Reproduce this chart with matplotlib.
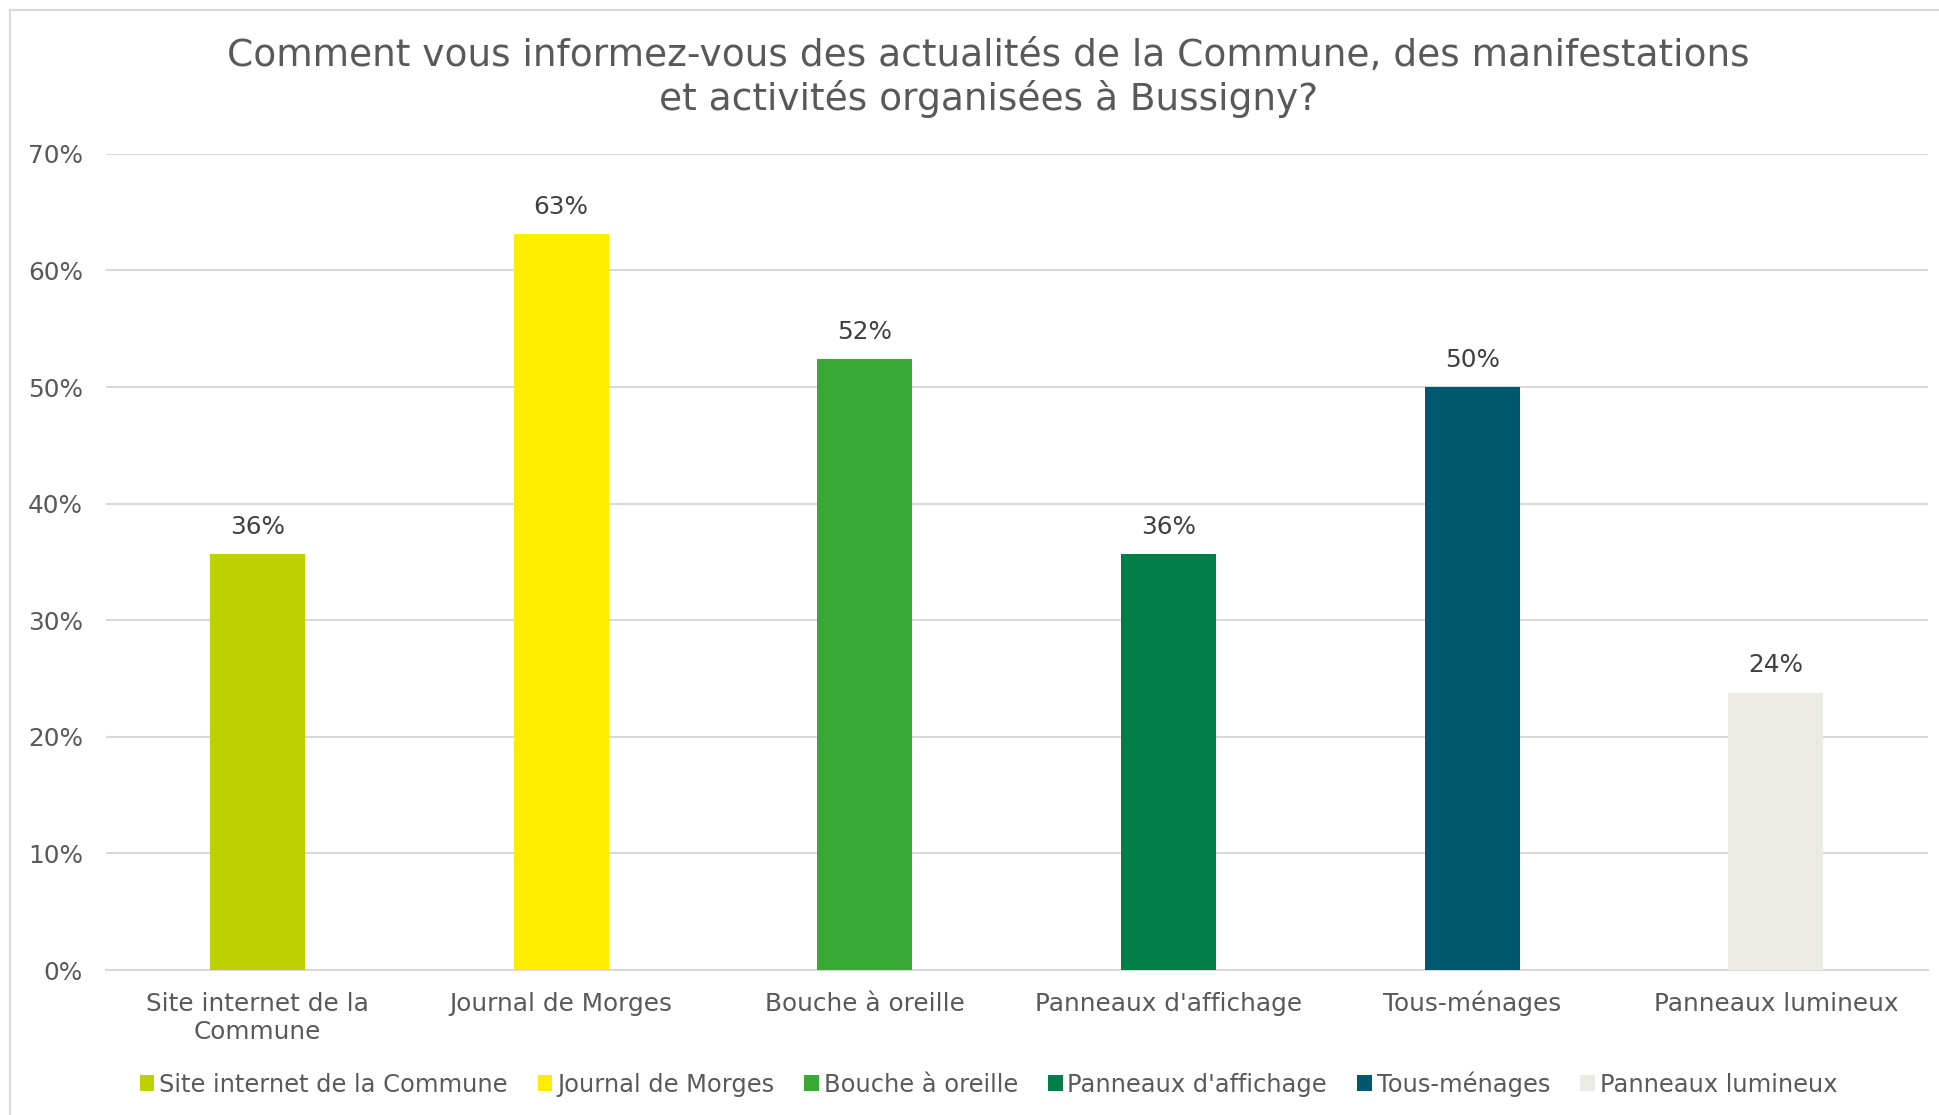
import matplotlib.pyplot as plt
from matplotlib.patches import Patch
from matplotlib.lines import Line2D
from matplotlib.ticker import PercentFormatter
from matplotlib.transforms import ScaledTranslation

categories = ['Site internet de la\nCommune', 'Journal de Morges', 'Bouche à oreille',
              "Panneaux d'affichage", 'Tous-ménages', 'Panneaux lumineux']
legend_names = ['Site internet de la Commune', 'Journal de Morges', 'Bouche à oreille',
                "Panneaux d'affichage", 'Tous-ménages', 'Panneaux lumineux']
values = [35.7, 63.1, 52.4, 35.7, 50.0, 23.8]
colors = ['#BDD000', '#FFED00', '#38A935', '#007E48', '#005870', '#EBEBE4']

plt.rcParams['font.family'] = ['DejaVu Sans']

fig = plt.figure(figsize=(19.39, 11.15), dpi=100)
ax = fig.add_axes([0.0545, 0.130, 0.9397, 0.732])

x = range(len(values))
bars = ax.bar(x, values, width=0.313, color=colors, zorder=3)

for b, v in zip(bars, values):
    ax.text(b.get_x() + b.get_width() / 2, v + 1.3, f"{v:.0f}%", ha='center', va='bottom',
            fontsize=17.8, color='#404040')

ax.set_xlim(-0.5, len(values) - 0.5)
ax.set_ylim(0, 70)
ax.set_yticks(range(0, 71, 10))
ax.yaxis.set_major_formatter(PercentFormatter(decimals=0))
ax.grid(axis='y', color='#D9D9D9', linewidth=1.5, zorder=0)
for s in ['top', 'right', 'left']:
    ax.spines[s].set_visible(False)
ax.spines['bottom'].set_color('#D9D9D9')
ax.spines['bottom'].set_linewidth(1.5)
ax.tick_params(axis='both', length=0, labelsize=17.8, colors='#595959')
ax.tick_params(axis='x', pad=29.5)
ax.tick_params(axis='y', pad=16.5)
ax.set_xticks(list(x))
ax.set_xticklabels(categories, linespacing=1.25)
# align on the baseline of the first line (multi-line labels align on the last one)
for lbl in ax.get_xticklabels():
    lbl.set_verticalalignment('baseline')
    n_extra = lbl.get_text().count('\n')
    if n_extra:
        lbl.set_transform(lbl.get_transform() +
                          ScaledTranslation(0, -0.284 * n_extra, fig.dpi_scale_trans))

fig.text(0.5097, 0.930, "Comment vous informez-vous des actualités de la Commune, des manifestations\n"
         "et activités organisées à Bussigny?", ha='center', va='center', fontsize=27,
         color='#595959', linespacing=1.2)

handles = [Patch(facecolor=c, edgecolor='none') for c in colors]
fig.legend(handles, legend_names, loc='center', bbox_to_anchor=(0.5097, 0.028), ncol=6,
           frameon=False, fontsize=17.4, labelcolor='#595959', handlelength=0.6, handleheight=0.6,
           handletextpad=0.2, columnspacing=1.25)

# chart area border (left and top visible)
fig.add_artist(Line2D([0.0052, 0.0052], [0, 0.991], color='#D9D9D9', linewidth=1.5))
fig.add_artist(Line2D([0.0052, 1], [0.991, 0.991], color='#D9D9D9', linewidth=1.5))

fig.savefig('out.png', dpi=100)
